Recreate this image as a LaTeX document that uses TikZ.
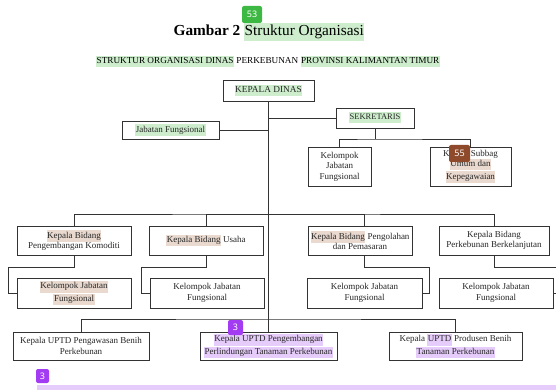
\documentclass[tikz,border=0pt]{standalone}
\usepackage{fontspec}
\setmainfont{Liberation Serif}
\newfontfamily\badgefont{Noto Sans}

\definecolor{hlgreen}{HTML}{CDEDCD}
\definecolor{hlbrown}{HTML}{E9D9CF}
\definecolor{hlpurple}{HTML}{E6CCFA}
\definecolor{bdgreen}{HTML}{3DB843}
\definecolor{bdbrown}{HTML}{8E4A2A}
\definecolor{bdpurple}{HTML}{A23BF2}
\definecolor{linegray}{HTML}{333333}

\newcommand{\hl}[2]{{\setlength{\fboxsep}{0.5pt}\colorbox{#1}{\strut #2}}}

\tikzset{
  orgbox/.style={draw=linegray, line width=0.7pt, fill=white, align=center,
    inner sep=1pt, text=black!85, font=\fontsize{9}{10.5}\selectfont},
  capbox/.style={orgbox, font=\fontsize{8.5}{10}\selectfont},
  badge/.style={fill=#1, rounded corners=2pt, text=white, inner sep=0pt,
    font=\badgefont\fontsize{9}{10}\selectfont},
  link/.style={draw=linegray, line width=0.7pt}
}

\begin{document}
\begin{tikzpicture}[x=1pt, y=-1pt]
        \clip (0,0) rectangle (556,390);
        \fill[white] (0,0) rectangle (556,390);

        % judul
        \node (judul) at (269,32) {\fontsize{15.3}{17}\selectfont\textbf{Gambar 2} \hl{hlgreen}{Struktur Organisasi}};
        \node (subjudul) at (268,62) {\fontsize{9.2}{10}\selectfont\hl{hlgreen}{STRUKTUR ORGANISASI DINAS} PERKEBUNAN \hl{hlgreen}{PROVINSI KALIMANTAN TIMUR}};

        % pimpinan dan sekretariat
        \node[capbox, font=\fontsize{9.3}{10}\selectfont, minimum width=91, minimum height=21] (kadis) at (268.5,90.5) {\hl{hlgreen}{KEPALA DINAS}};
        \node[capbox, minimum width=78, minimum height=20] (sekre) at (375,118) {\hl{hlgreen}{SEKRETARIS}};
        \node[orgbox, minimum width=97, minimum height=18] (jabfung) at (170.5,130) {\hl{hlgreen}{Jabatan Fungsional}};
        \node[orgbox, minimum width=63, minimum height=39] (kjf0) at (339.5,166.5) {Kelompok\\Jabatan\\Fungsional};
        \node[orgbox, minimum width=81, minimum height=39] (subbag) at (470.5,166.5) {Kepala Subbag\\\hl{hlbrown}{Umum dan}\\\hl{hlbrown}{Kepegawaian}};

        % bidang
        \node[orgbox, minimum width=114, minimum height=29] (bid1) at (74,240.5) {\hl{hlbrown}{Kepala Bidang}\\Pengembangan Komoditi};
        \node[orgbox, minimum width=114, minimum height=29] (bid2) at (206,240.5) {\hl{hlbrown}{Kepala Bidang} Usaha};
        \node[orgbox, minimum width=104, minimum height=29] (bid3) at (360,240.5) {\hl{hlbrown}{Kepala Bidang} Pengolahan\\dan Pemasaran};
        \node[orgbox, minimum width=110, minimum height=29] (bid4) at (494,240.5) {Kepala Bidang\\Perkebunan Berkelanjutan};

        \node[orgbox, minimum width=114, minimum height=30] (kjf1) at (74,293) {\hl{hlbrown}{Kelompok Jabatan}\\\hl{hlbrown}{Fungsional}};
        \node[orgbox, minimum width=114, minimum height=30] (kjf2) at (207,293) {Kelompok Jabatan\\Fungsional};
        \node[orgbox, minimum width=115, minimum height=30] (kjf3) at (364.5,293) {Kelompok Jabatan\\Fungsional};
        \node[orgbox, minimum width=114, minimum height=30] (kjf4) at (496,293) {Kelompok Jabatan\\Fungsional};

        % UPTD
        \node[orgbox, minimum width=136, minimum height=28] (uptd1) at (81,346) {Kepala UPTD Pengawasan Benih\\Perkebunan};
        \node[orgbox, minimum width=137, minimum height=28] (uptd2) at (268.5,346) {\hl{hlpurple}{Kepala UPTD Pengembangan}\\\hl{hlpurple}{Perlindungan Tanaman Perkebunan}};
        \node[orgbox, minimum width=133, minimum height=28] (uptd3) at (455.5,346) {Kepala \hl{hlpurple}{UPTD} Produsen Benih\\\hl{hlpurple}{Tanaman Perkebunan}};

        \coordinate (sekbus) at (375,139);
        \coordinate (bidbus) at (268.5,214);
        \coordinate (uptdbus) at (268.5,319);

        \draw[link] (kadis.south) -- (uptd2.north);
        \draw[link] (jabfung.east) -- (jabfung.east -| kadis.south);
        \draw[link] (sekre.west) -- (sekre.west -| kadis.south);
        \draw[link] (sekre.south) -- (sekbus);
        \draw[link] (kjf0.north) |- (sekbus) -| (subbag.north);

        \draw[link] (bid1.north) |- (bidbus) -| (bid4.north);
        \draw[link] (bid2.north) |- (bidbus);
        \draw[link] ([xshift=4pt]bid3.north) |- (bidbus);

        \draw[link] (bid1.south) -- ++(0,12) -| ([xshift=-8pt]kjf1.west) -- (kjf1.west);
        \draw[link] (bid2.south) -- ++(0,12) -| ([xshift=-8pt]kjf2.west) -- (kjf2.west);
        \draw[link] ([xshift=4pt]bid3.south) -- ++(0,12) -| ([xshift=7pt]kjf3.east) -- (kjf3.east);
        \draw[link] (bid4.south) -- ++(0,12) -| ([xshift=8pt]kjf4.east) -- (kjf4.east);

        \draw[link] (uptd1.north) |- (uptdbus) -| (uptd3.north);

        % tanda sorotan
        \fill[hlpurple] (37,385) rectangle (556,391);
        \node[badge=bdgreen, minimum width=20, minimum height=17] (b53) at (252,14.5) {53};
        \node[badge=bdbrown, minimum width=21, minimum height=17] (b55) at (459.5,153.5) {55};
        \node[badge=bdpurple, minimum width=15, minimum height=15] (b3a) at (235.5,327.5) {3};
        \node[badge=bdpurple, minimum width=13, minimum height=14] (b3b) at (42.5,376) {3};
    \end{tikzpicture}
\end{document}
